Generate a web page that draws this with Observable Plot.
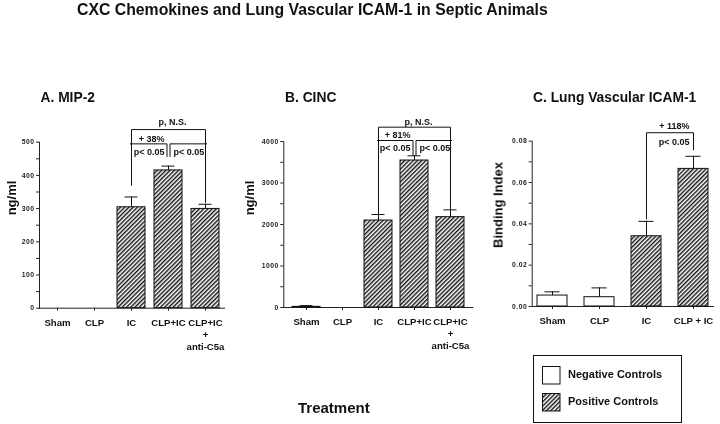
<!DOCTYPE html>
<html>
<head>
<meta charset="utf-8">
<script src="https://cdn.jsdelivr.net/npm/d3@7"></script>
<script src="https://cdn.jsdelivr.net/npm/@observablehq/plot@0.6"></script>
<style>
  body { margin: 0; background: #fff; }
  #root { position: relative; width: 720px; height: 424px; overflow: hidden;
          font-family: "Liberation Sans", Arial, Helvetica, sans-serif; color: #111; background: #fff; }
  .t { position: absolute; white-space: nowrap; font-weight: bold; line-height: 1; }
  .rot { position: absolute; white-space: nowrap; font-weight: bold; line-height: 1;
         transform: translate(-50%, -50%) rotate(-90deg); }
  #root svg.panel { position: absolute; left: 0; top: 0; will-change: transform; }
  #root svg.panel [aria-label^="y-axis"] text { letter-spacing: 0.5px; fill: #222; }
  .legend { position: absolute; left: 533px; top: 355px; width: 147px; height: 66px; border: 1px solid #111; }
  .sw { position: absolute; }
</style>
</head>
<body>
<svg width="0" height="0" style="position:absolute">
  <defs>
    <pattern id="hatch" patternUnits="userSpaceOnUse" width="3" height="10" patternTransform="rotate(45)">
      <line x1="0.7" y1="0" x2="0.7" y2="10" stroke="#111" stroke-width="1.45"></line>
    </pattern>
  </defs>
</svg>
<div id="root"></div>
<script>
// ---------- data ----------
const catsAB = ["Sham", "CLP", "IC", "CLP+IC", "CLP+IC+anti-C5a"];
const labelsAB = ["Sham", "CLP", "IC", "CLP+IC", "CLP+IC\n+\nanti-C5a"];
const groupsAB = ["pos", "pos", "pos", "pos", "pos"];

const meanA = [0, 0, 304, 415, 299];
const errA  = [0, 0, 335, 428, 313];
const ticksA = [0, 50, 100, 150, 200, 250, 300, 350, 400, 450, 500];

const meanB = [15, 0, 2096, 3542, 2177];
const errB  = [45, 0, 2241, 3655, 2353];
const ticksB = [0, 500, 1000, 1500, 2000, 2500, 3000, 3500, 4000];

const catsC = ["Sham", "CLP", "IC", "CLP + IC"];
const labelsC = ["Sham", "CLP", "IC", "CLP + IC"];
const groupsC = ["neg", "neg", "pos", "pos"];
const meanC = [0.0053, 0.0045, 0.034, 0.0666];
const errC  = [0.0071, 0.009, 0.0412, 0.0727];
const ticksC = [0, 0.01, 0.02, 0.03, 0.04, 0.05, 0.06, 0.07, 0.08];

// significance brackets (levels in data units)
const bracketsA = [
  {from: "IC", to: "CLP+IC+anti-C5a", level: 538, footFrom: 370, footTo: 319, side: "c"},
  {from: "IC", to: "CLP+IC", level: 495, footFrom: 495, footTo: 457, side: "l"},
  {from: "CLP+IC", to: "CLP+IC+anti-C5a", level: 495, footFrom: 457, footTo: 495, side: "r"}
];
const notesA = [
  {cat: "CLP+IC", level: 561, text: "p, N.S.", side: "c"},
  {cat: "CLP+IC", level: 510, text: "+ 38%", side: "l"},
  {cat: "CLP+IC", level: 471, text: "p< 0.05", side: "l"},
  {cat: "CLP+IC", level: 471, text: "p< 0.05", side: "r"}
];
const bracketsB = [
  {from: "IC", to: "CLP+IC+anti-C5a", level: 4345, footFrom: 2258, footTo: 2354, side: "c"},
  {from: "IC", to: "CLP+IC", level: 4024, footFrom: 4024, footTo: 3663, side: "l"},
  {from: "CLP+IC", to: "CLP+IC+anti-C5a", level: 4024, footFrom: 3663, footTo: 4024, side: "r"}
];
const notesB = [
  {cat: "CLP+IC", level: 4460, text: "p, N.S.", side: "c"},
  {cat: "CLP+IC", level: 4157, text: "+ 81%", side: "l"},
  {cat: "CLP+IC", level: 3831, text: "p< 0.05", side: "l"},
  {cat: "CLP+IC", level: 3831, text: "p< 0.05", side: "r"}
];
const bracketsC = [
  {from: "IC", to: "CLP + IC", level: 0.0841, footFrom: 0.0424, footTo: 0.0758, side: "c"}
];
const notesC = [
  {cat: "CLP + IC", level: 0.0874, text: "+ 118%", side: "l"},
  {cat: "CLP + IC", level: 0.0794, text: "p< 0.05", side: "l"}
];

// ---------- drawing ----------
const FONT = "Liberation Sans, Arial, Helvetica, sans-serif";
const sideDx = {c: 0, l: -1.5, r: 1.5};
const noteStyle = {c: {textAnchor: "middle", dx: 4}, l: {textAnchor: "end", dx: -4}, r: {textAnchor: "start", dx: 5}};

function panel(cfg) {
  const rows = cfg.cats.map((c, i) => ({cat: c, label: cfg.labels[i], mean: cfg.mean[i], err: cfg.err[i], group: cfg.groups[i]}));
  const shown = rows.filter(d => d.err > 0);
  const pts = [];
  cfg.brackets.forEach((b, k) => {
    pts.push({id: k, side: b.side, cat: b.from, y: b.footFrom});
    pts.push({id: k, side: b.side, cat: b.from, y: b.level});
    pts.push({id: k, side: b.side, cat: b.to, y: b.level});
    pts.push({id: k, side: b.side, cat: b.to, y: b.footTo});
  });
  const marks = [
    Plot.barY(shown.filter(d => d.group === "neg"), {x: "cat", y: "mean", fill: "white", stroke: "#111", strokeWidth: 1}),
    Plot.barY(shown.filter(d => d.group === "pos"), {x: "cat", y: "mean", fill: "url(#hatch)", stroke: "#111", strokeWidth: 1}),
    Plot.ruleX(shown, {x: "cat", y1: "mean", y2: "err", stroke: "#111", strokeWidth: 1}),
    Plot.tickY(shown, {x: "cat", y: "err", stroke: "#111", strokeWidth: 1, insetLeft: cfg.cap, insetRight: cfg.cap}),
    Plot.text(rows, {x: "cat", text: "label", frameAnchor: "bottom", lineAnchor: "top", dy: 9,
      fontSize: 9.6, fontWeight: "bold", lineHeight: 1.25, fill: "#111"})
  ];
  for (const s of ["c", "l", "r"]) {
    const p = pts.filter(d => d.side === s);
    if (p.length) marks.push(Plot.line(p, {x: "cat", y: "y", z: "id", stroke: "#111", strokeWidth: 1, dx: sideDx[s]}));
  }
  for (const n of cfg.notes) {
    marks.push(Plot.text([n], {x: "cat", y: "level", text: "text", fontSize: 9, fontWeight: "bold", fill: "#111", ...noteStyle[n.side]}));
  }
  const svg = Plot.plot({
    width: 720, height: 424,
    marginLeft: cfg.left, marginRight: 720 - cfg.right, marginTop: cfg.top, marginBottom: 424 - cfg.bottom,
    style: {background: "transparent", fontFamily: FONT, fontSize: "6.8px", fontWeight: "bold", color: "#222", overflow: "visible"},
    x: {domain: cfg.cats, paddingInner: cfg.pi, paddingOuter: cfg.po, tickSize: 3, tickFormat: () => "", line: true, label: null},
    y: {domain: cfg.yDomain, ticks: cfg.ticks, tickFormat: cfg.fmt, tickSize: 3, tickPadding: 2, line: true, label: null},
    marks
  });
  svg.classList.add("panel");
  return svg;
}

const root = document.getElementById("root");

root.append(panel({cats: catsAB, labels: labelsAB, groups: groupsAB, mean: meanA, err: errA,
  yDomain: [0, 500], ticks: ticksA, fmt: d => (d % 100 === 0 ? String(d) : ""),
  left: 39, right: 224, top: 141.7, bottom: 307.7, pi: 0.232, po: 0.109, cap: 7.5,
  brackets: bracketsA, notes: notesA}));

root.append(panel({cats: catsAB, labels: labelsAB, groups: groupsAB, mean: meanB, err: errB,
  yDomain: [0, 4000], ticks: ticksB, fmt: d => (d % 1000 === 0 ? String(d) : ""),
  left: 283.3, right: 472.3, top: 141, bottom: 307, pi: 0.214, po: 0.168, cap: 7.5,
  brackets: bracketsB, notes: notesB}));

root.append(panel({cats: catsC, labels: labelsC, groups: groupsC, mean: meanC, err: errC,
  yDomain: [0, 0.08], ticks: ticksC, fmt: d => (Math.round(d * 100) % 2 === 0 ? d3.format(".2f")(d) : ""),
  left: 531.7, right: 713.1, top: 140.7, bottom: 306, pi: 0.372, po: 0.084, cap: 7.5,
  brackets: bracketsC, notes: notesC}));

// ---------- titles & labels ----------
function addText(cls, txt, css) {
  const d = document.createElement("div");
  d.className = cls;
  d.textContent = txt;
  Object.assign(d.style, css);
  root.append(d);
  return d;
}
addText("t", "CXC Chemokines and Lung Vascular ICAM-1 in Septic Animals", {left: "77px", top: "2px", fontSize: "15.8px"});
addText("t", "A. MIP-2", {left: "40.5px", top: "91.3px", fontSize: "13.8px"});
addText("t", "B. CINC", {left: "285px", top: "91.3px", fontSize: "13.8px"});
addText("t", "C. Lung Vascular ICAM-1", {left: "533px", top: "91.3px", fontSize: "13.8px"});
addText("rot", "ng/ml", {left: "11px", top: "197.5px", fontSize: "13px"});
addText("rot", "ng/ml", {left: "249px", top: "198px", fontSize: "13px"});
addText("rot", "Binding Index", {left: "497.5px", top: "205px", fontSize: "13px"});
addText("t", "Treatment", {left: "298px", top: "400.3px", fontSize: "15px"});

// ---------- legend ----------
const legendItems = [
  {label: "Negative Controls", fill: "white"},
  {label: "Positive Controls", fill: "url(#hatch)"}
];
const leg = document.createElement("div");
leg.className = "legend";
root.append(leg);
legendItems.forEach((it, i) => {
  const sw = d3.create("svg").attr("class", "sw").attr("width", 19).attr("height", 19)
    .style("left", "8px").style("top", (9.5 + i * 27.5) + "px");
  sw.append("rect").attr("x", 0.5).attr("y", 0.5).attr("width", 17.5).attr("height", 17.5)
    .attr("fill", it.fill).attr("stroke", "#111").attr("stroke-width", 1);
  leg.append(sw.node());
  const t = document.createElement("div");
  t.className = "t";
  t.textContent = it.label;
  Object.assign(t.style, {left: "34px", top: (12.7 + i * 27.6) + "px", fontSize: "11px"});
  leg.append(t);
});
</script>
</body>
</html>
